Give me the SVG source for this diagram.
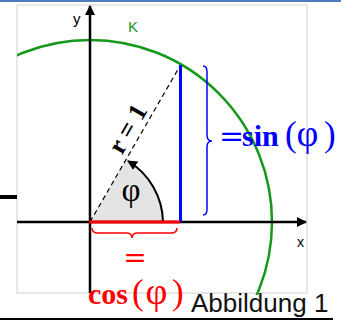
<svg xmlns="http://www.w3.org/2000/svg" width="341" height="320" viewBox="0 0 341 320">
<style>
.axis{stroke:#000;stroke-width:2.5;fill:none}
.lbl{font-family:"Liberation Sans",Arial,sans-serif;font-size:14px;fill:#000}
.ser{font-family:"Liberation Serif","Times New Roman",serif}
.eq{font-family:"DejaVu Serif",serif}
</style>
<defs>
<marker id="ah" viewBox="0 0 10 10" refX="9" refY="5" markerWidth="4" markerHeight="4" orient="auto" markerUnits="strokeWidth">
<path d="M0,0 L10,5 L0,10 Z" fill="#000"/>
</marker>
<marker id="ah2" viewBox="0 0 10 10" refX="9" refY="5" markerWidth="5" markerHeight="5" orient="auto" markerUnits="strokeWidth">
<path d="M0,0 L10,5 L0,10 Z" fill="#000"/>
</marker>
<clipPath id="frameclip"><rect x="17" y="5" width="290" height="290"/></clipPath>
</defs>
<rect width="341" height="320" fill="#fff"/>
<rect x="0" y="0" width="341" height="2" fill="#4f7fb8"/>
<g id="frame">
<rect x="17" y="5" width="290" height="288" fill="none" stroke="#d9d9d9" stroke-width="1.2"/>
<line x1="0" y1="197" x2="17" y2="197" stroke="#000" stroke-width="4"/>
<line x1="0" y1="319" x2="333" y2="319" stroke="#000" stroke-width="2"/>
</g>
<g id="sector">
<path d="M90,222 L163,222 A73,73 0 0,0 126.5,158.8 Z" fill="#e4e4e4"/>
</g>
<g id="circle-K">
<circle cx="90" cy="222" r="182" fill="none" stroke="#16991a" stroke-width="2.5" clip-path="url(#frameclip)"/>
<text x="128" y="32" class="lbl" style="fill:#16991a;font-size:15px">K</text>
</g>
<g id="connectors">
<line x1="17" y1="222" x2="306" y2="222" class="axis" marker-end="url(#ah)"/>
<line x1="90" y1="293" x2="90" y2="6" class="axis" marker-end="url(#ah)"/>
<line x1="90" y1="222" x2="180.5" y2="65" stroke="#000" stroke-width="1.2" stroke-dasharray="5,3.5"/>
<path d="M163,222 A73,73 0 0,0 128,161" fill="none" stroke="#000" stroke-width="2" marker-end="url(#ah2)"/>
<line x1="180.5" y1="65" x2="180.5" y2="222" stroke="#0000ff" stroke-width="3"/>
<line x1="89" y1="222" x2="180" y2="222" stroke="#ff0000" stroke-width="3"/>
<path d="M203,66 Q207,66 207,72 L207,135 Q207,141 212,141 Q207,141 207,147 L207,209 Q207,215 203,215" fill="none" stroke="#0000ff" stroke-width="1.5"/>
<path d="M92,228 Q92,233 98,233 L126,233 Q132,233 132,238 Q132,233 138,233 L171,233 Q177,233 177,228" fill="none" stroke="#ff0000" stroke-width="1.5"/>
</g>
<g id="axis-labels">
<text x="73" y="24" class="lbl" style="font-size:15px">y</text>
<text x="297" y="247" class="lbl">x</text>
</g>
<g id="radius-label">
<text transform="translate(135,133) rotate(-60)" text-anchor="middle" class="ser" font-size="26" font-weight="bold">r = 1</text>
</g>
<g id="angle-label">
<text x="131" y="201" text-anchor="middle" class="ser" font-size="33">φ</text>
</g>
<g id="sin-label" fill="#0000ff">
<text x="219" y="146" class="eq" font-size="30">=</text>
<text x="242" y="146" class="ser" font-size="30" font-weight="bold">sin</text>
<text x="285" y="146" class="ser" font-size="35">(</text>
<text x="307.5" y="146" text-anchor="middle" class="ser" font-size="38">φ</text>
<text x="324" y="146" class="ser" font-size="35">)</text>
</g>
<g id="cos-label" fill="#ff0000">
<text x="135" y="267" text-anchor="middle" class="eq" font-size="28">=</text>
<text x="88" y="304" class="ser" font-size="30" font-weight="bold">cos</text>
<text x="132" y="304" class="ser" font-size="35">(</text>
<text x="156.5" y="304" text-anchor="middle" class="ser" font-size="38">φ</text>
<text x="172" y="304" class="ser" font-size="35">)</text>
</g>
<g id="caption">
<text x="191" y="311.5" font-family="'Liberation Sans',Arial,sans-serif" font-size="26" fill="#111">Abbildung 1</text>
</g>
</svg>
